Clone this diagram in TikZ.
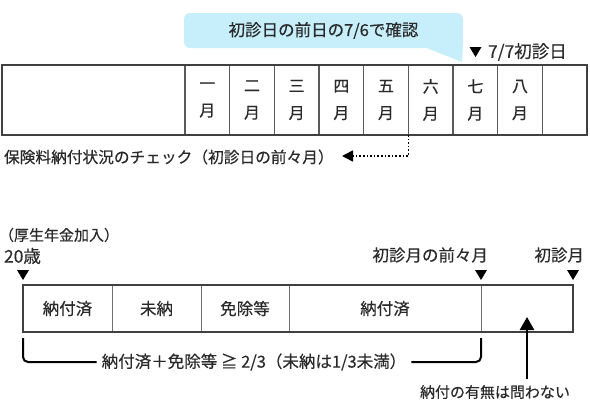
\documentclass[tikz,border=0pt]{standalone}
\usepackage{fontspec}
\setmainfont{Noto Sans CJK JP}[FakeBold=0.4]
\usetikzlibrary{arrows.meta,calc}
\definecolor{txt}{HTML}{2A2A2A}
\definecolor{frame}{HTML}{404040}
\definecolor{divider}{HTML}{5A5A5A}
\definecolor{bdivider}{HTML}{707070}
\definecolor{bubblefill}{HTML}{C6EEFB}
\begin{document}
\begin{tikzpicture}[x=1pt,y=-1pt,
  every node/.style={text=txt, font=\fontsize{16.5}{18}\selectfont},
  cell/.style={draw=divider, line width=1.5pt, minimum height=70pt, minimum width=44.67pt,
    inner sep=0pt, outer sep=0pt, anchor=north west, align=center,
    font=\fontsize{16}{27}\selectfont},
  bcell/.style={draw=bdivider, line width=1pt, minimum height=47pt,
    inner sep=0pt, outer sep=0pt, anchor=north west},
  outerframe/.style={draw=frame, line width=2.5pt},
  trimark/.style={fill=black},
  bracketline/.style={draw=black, line width=2pt, rounded corners=5pt},
  plain/.style={inner sep=0pt, outer sep=0pt}
]
\useasboundingbox (0,0) rectangle (590,410);

% ---------- top section ----------
\node[cell, minimum width=183pt] (blank) at (2,65) {};
\foreach \i/\k in {1/一,2/二,3/三,4/四,5/五,6/六,7/七,8/八}
  \node[cell] (m\i) at ({185+44.67*(\i-1)},65) {\k\\月};
\node[cell] (m9) at (542.33,65) {};
\draw[outerframe] (blank.north west) rectangle (m9.south east);

% callout
\node[fill=bubblefill, rounded corners=6pt, minimum width=279pt, minimum height=35pt,
      inner sep=0pt] (bub) at (323.5,30.5) {初診日の前日の7/6で確認};
\coordinate (tip) at (462,62);
\fill[bubblefill] ($(bub.south east)+(-36,0)$) -- (tip) -- ($(bub.south east)+(0,-8)$) -- cycle;

% first visit marker
\coordinate (fm) at (469.5,47);
\fill[trimark] (fm) -- ++(12,0) -- ++(-6,10) -- cycle;
\node[plain, anchor=west, font=\fontsize{17.5}{19}\selectfont] (first) at (488,52) {7/7初診日};

% check label with dotted arrow
\node[plain, anchor=west, font=\fontsize{15.7}{18}\selectfont] (chk) at (4,157) {保険料納付状況のチェック（初診日の前々月）};
\coordinate (chkend) at (342,156);
\draw[dotted, line width=1.6pt, -{Triangle[width=11pt,length=11pt]}]
  (m6.south west) |- (chkend);

% ---------- bottom section ----------
\node[plain, anchor=west, font=\fontsize{15}{17}\selectfont] (kosei) at (-1,235) {（厚生年金加入）};
\node[plain, anchor=west, font=\fontsize{17.5}{19}\selectfont] (age) at (4,256) {20歳};
\node[plain, anchor=east] (zenzen) at (488,255) {初診月の前々月};
\node[plain, anchor=east] (shoshin) at (584,255) {初診月};

\node[bcell, minimum width=89pt] (b1) at (23,285) {納付済};
\node[bcell, minimum width=89pt] (b2) at (112,285) {未納};
\node[bcell, minimum width=88pt] (b3) at (201,285) {免除等};
\node[bcell, minimum width=192pt] (b4) at (289,285) {納付済};
\node[bcell, minimum width=92pt] (b5) at (481,285) {};
\draw[outerframe, line width=2pt] (b1.north west) rectangle (b5.south east);

\fill[trimark] ($(b1.north west)+(-6,-15)$) -- ++(12,0) -- ++(-6,10) -- cycle;
\fill[trimark] ($(b5.north west)+(-6,-15)$) -- ++(12,0) -- ++(-6,10) -- cycle;
\fill[trimark] ($(b5.north east)+(-6,-15)$) -- ++(12,0) -- ++(-6,10) -- cycle;

% bracket
\node[inner xsep=5pt, inner ysep=0pt] (brl) at (254,362) {納付済＋免除等 ≧ 2/3（未納は1/3未満）};
\draw[bracketline] ($(b1.south west)+(0,6)$) |- (brl.west);
\draw[bracketline] (brl.east) -| ($(b4.south east)+(0,6)$);

% no-matter arrow
\node[plain, font=\fontsize{15}{17}\selectfont] (note) at (495,392) {納付の有無は問わない};
\coordinate (up) at (527,317);
\draw[line width=2.5pt, -{Triangle[width=14pt,length=13pt]}] ($(note.north -| up)+(0,-6)$) -- (up);
\end{tikzpicture}
\end{document}
